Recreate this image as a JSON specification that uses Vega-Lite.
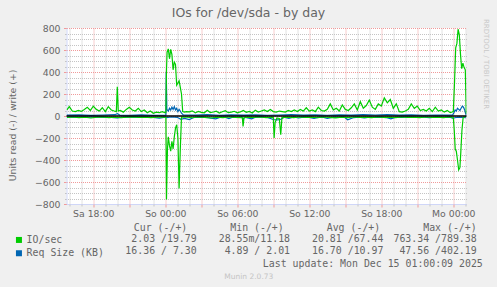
{
  "$schema": "https://vega.github.io/schema/vega-lite/v6.json",
  "width": 400,
  "height": 176,
  "autosize": "none",
  "padding": {"left": 66.5, "top": 28, "right": 30.5, "bottom": 83},
  "background": "#F0F0F0",
  "config": {
    "view": {"fill": "#FFFFFF", "stroke": null},
    "font": "DejaVu Sans"
  },
  "title": {
    "text": "IOs for /dev/sda - by day",
    "font": "DejaVu Sans",
    "fontSize": 12.5,
    "fontWeight": "normal",
    "color": "#666666",
    "anchor": "middle",
    "dx": -18,
    "dy": 11,
    "offset": 0,
    "baseline": "alphabetic"
  },
  "datasets": {
    "gw": [
      {"h": 15.8, "v": 55}, {"h": 16.0, "v": 85}, {"h": 16.25, "v": 45}, {"h": 16.5, "v": 40}, {"h": 16.75, "v": 50},
      {"h": 17.0, "v": 42}, {"h": 17.25, "v": 60}, {"h": 17.5, "v": 80}, {"h": 17.75, "v": 50}, {"h": 18.0, "v": 90},
      {"h": 18.25, "v": 60}, {"h": 18.5, "v": 45}, {"h": 18.75, "v": 75}, {"h": 19.0, "v": 40}, {"h": 19.25, "v": 85},
      {"h": 19.5, "v": 55}, {"h": 19.75, "v": 45}, {"h": 19.92, "v": 40}, {"h": 20.0, "v": 265}, {"h": 20.08, "v": 45},
      {"h": 20.25, "v": 50}, {"h": 20.5, "v": 35}, {"h": 20.75, "v": 60}, {"h": 21.0, "v": 80}, {"h": 21.25, "v": 55},
      {"h": 21.5, "v": 45}, {"h": 21.75, "v": 70}, {"h": 22.0, "v": 40}, {"h": 22.25, "v": 55}, {"h": 22.5, "v": 30},
      {"h": 22.75, "v": 45}, {"h": 23.0, "v": 25}, {"h": 23.25, "v": 35}, {"h": 23.5, "v": 30}, {"h": 23.75, "v": 40},
      {"h": 24.0, "v": 30}, {"h": 24.05, "v": 35}, {"h": 24.1, "v": 420}, {"h": 24.15, "v": 580}, {"h": 24.25, "v": 610},
      {"h": 24.35, "v": 520}, {"h": 24.45, "v": 605}, {"h": 24.55, "v": 560}, {"h": 24.65, "v": 420}, {"h": 24.75, "v": 490},
      {"h": 24.85, "v": 470}, {"h": 24.95, "v": 280}, {"h": 25.05, "v": 300}, {"h": 25.15, "v": 320}, {"h": 25.25, "v": 260},
      {"h": 25.35, "v": 200}, {"h": 25.45, "v": 40}, {"h": 25.6, "v": 35}, {"h": 25.75, "v": 40}, {"h": 26.0, "v": 38},
      {"h": 26.25, "v": 47}, {"h": 26.5, "v": 28}, {"h": 26.75, "v": 42}, {"h": 27.0, "v": 33}, {"h": 27.25, "v": 29},
      {"h": 27.5, "v": 52}, {"h": 27.75, "v": 31}, {"h": 28.0, "v": 36}, {"h": 28.25, "v": 44}, {"h": 28.5, "v": 27},
      {"h": 28.75, "v": 39}, {"h": 29.0, "v": 48}, {"h": 29.25, "v": 30}, {"h": 29.5, "v": 35}, {"h": 29.75, "v": 43},
      {"h": 30.0, "v": 29}, {"h": 30.25, "v": 37}, {"h": 30.5, "v": 50}, {"h": 30.75, "v": 33}, {"h": 31.0, "v": 41},
      {"h": 31.25, "v": 28}, {"h": 31.5, "v": 53}, {"h": 31.75, "v": 36}, {"h": 32.0, "v": 45}, {"h": 32.25, "v": 55},
      {"h": 32.5, "v": 40}, {"h": 32.75, "v": 60}, {"h": 33.0, "v": 40}, {"h": 33.25, "v": 35}, {"h": 33.5, "v": 45},
      {"h": 33.75, "v": 40}, {"h": 34.0, "v": 35}, {"h": 34.25, "v": 50}, {"h": 34.5, "v": 40}, {"h": 34.75, "v": 55},
      {"h": 35.0, "v": 40}, {"h": 35.25, "v": 60}, {"h": 35.5, "v": 45}, {"h": 35.75, "v": 75}, {"h": 36.0, "v": 45},
      {"h": 36.25, "v": 55}, {"h": 36.5, "v": 40}, {"h": 36.75, "v": 80}, {"h": 37.0, "v": 50}, {"h": 37.25, "v": 45},
      {"h": 37.5, "v": 60}, {"h": 37.75, "v": 110}, {"h": 38.0, "v": 55}, {"h": 38.25, "v": 70}, {"h": 38.5, "v": 45},
      {"h": 38.75, "v": 100}, {"h": 39.0, "v": 60}, {"h": 39.25, "v": 50}, {"h": 39.5, "v": 75}, {"h": 39.75, "v": 110},
      {"h": 40.0, "v": 55}, {"h": 40.25, "v": 130}, {"h": 40.5, "v": 70}, {"h": 40.75, "v": 95}, {"h": 41.0, "v": 145},
      {"h": 41.25, "v": 80}, {"h": 41.5, "v": 60}, {"h": 41.75, "v": 110}, {"h": 42.0, "v": 90}, {"h": 42.25, "v": 165},
      {"h": 42.5, "v": 120}, {"h": 42.75, "v": 150}, {"h": 43.0, "v": 70}, {"h": 43.25, "v": 110}, {"h": 43.5, "v": 40},
      {"h": 43.75, "v": 35}, {"h": 44.0, "v": 45}, {"h": 44.25, "v": 60}, {"h": 44.5, "v": 110}, {"h": 44.75, "v": 70},
      {"h": 45.0, "v": 90}, {"h": 45.25, "v": 50}, {"h": 45.5, "v": 60}, {"h": 45.75, "v": 45}, {"h": 46.0, "v": 70},
      {"h": 46.25, "v": 40}, {"h": 46.5, "v": 80}, {"h": 46.75, "v": 45}, {"h": 47.0, "v": 55}, {"h": 47.25, "v": 35},
      {"h": 47.5, "v": 50}, {"h": 47.75, "v": 30}, {"h": 48.0, "v": 40}, {"h": 48.1, "v": 300}, {"h": 48.2, "v": 620},
      {"h": 48.3, "v": 660}, {"h": 48.4, "v": 789}, {"h": 48.5, "v": 740}, {"h": 48.6, "v": 560}, {"h": 48.7, "v": 430},
      {"h": 48.8, "v": 480}, {"h": 48.9, "v": 440}, {"h": 49.0, "v": 420}, {"h": 49.08, "v": 20}
    ],
    "gr": [
      {"h": 15.8, "v": -12}, {"h": 16.3, "v": -9}, {"h": 16.8, "v": -15}, {"h": 17.3, "v": -10}, {"h": 17.8, "v": -18},
      {"h": 18.3, "v": -11}, {"h": 18.8, "v": -8}, {"h": 19.3, "v": -14}, {"h": 19.8, "v": -10}, {"h": 20.3, "v": -16},
      {"h": 20.8, "v": -11}, {"h": 21.3, "v": -8}, {"h": 21.8, "v": -13}, {"h": 22.3, "v": -10}, {"h": 22.8, "v": -15},
      {"h": 23.3, "v": -11}, {"h": 23.8, "v": -9}, {"h": 24.05, "v": -12}, {"h": 24.1, "v": -760}, {"h": 24.18, "v": -300},
      {"h": 24.25, "v": -190}, {"h": 24.35, "v": -270}, {"h": 24.45, "v": -320}, {"h": 24.55, "v": -230}, {"h": 24.65, "v": -300},
      {"h": 24.75, "v": -190}, {"h": 24.85, "v": -110}, {"h": 24.95, "v": -80}, {"h": 25.05, "v": -200}, {"h": 25.15, "v": -660},
      {"h": 25.25, "v": -300}, {"h": 25.35, "v": -10}, {"h": 25.8, "v": -11}, {"h": 26.3, "v": -16}, {"h": 26.8, "v": -9},
      {"h": 27.3, "v": -13}, {"h": 27.8, "v": -18}, {"h": 28.3, "v": -10}, {"h": 28.8, "v": -14}, {"h": 29.3, "v": -9},
      {"h": 29.8, "v": -13}, {"h": 30.3, "v": -15}, {"h": 30.42, "v": -14}, {"h": 30.48, "v": -95}, {"h": 30.56, "v": -14},
      {"h": 30.9, "v": -10}, {"h": 31.4, "v": -13}, {"h": 31.9, "v": -9}, {"h": 32.4, "v": -14}, {"h": 32.9, "v": -11},
      {"h": 33.0, "v": -12}, {"h": 33.07, "v": -200}, {"h": 33.15, "v": -60}, {"h": 33.3, "v": -18}, {"h": 33.5, "v": -22},
      {"h": 33.62, "v": -170}, {"h": 33.72, "v": -14}, {"h": 34.2, "v": -10}, {"h": 34.7, "v": -14}, {"h": 35.2, "v": -9},
      {"h": 35.7, "v": -13}, {"h": 36.2, "v": -10}, {"h": 36.7, "v": -16}, {"h": 37.2, "v": -9}, {"h": 37.7, "v": -13},
      {"h": 38.2, "v": -17}, {"h": 38.7, "v": -10}, {"h": 39.2, "v": -14}, {"h": 39.7, "v": -9}, {"h": 40.2, "v": -13},
      {"h": 40.7, "v": -10}, {"h": 41.2, "v": -15}, {"h": 41.7, "v": -9}, {"h": 42.2, "v": -13}, {"h": 42.7, "v": -10},
      {"h": 43.2, "v": -14}, {"h": 43.7, "v": -9}, {"h": 44.2, "v": -13}, {"h": 44.7, "v": -10}, {"h": 45.2, "v": -15},
      {"h": 45.7, "v": -9}, {"h": 46.2, "v": -13}, {"h": 46.7, "v": -10}, {"h": 47.2, "v": -14}, {"h": 47.7, "v": -9},
      {"h": 48.0, "v": -12}, {"h": 48.08, "v": -130}, {"h": 48.16, "v": -300}, {"h": 48.25, "v": -320}, {"h": 48.35, "v": -400},
      {"h": 48.45, "v": -490}, {"h": 48.55, "v": -470}, {"h": 48.62, "v": -340}, {"h": 48.72, "v": -130}, {"h": 48.82, "v": -12},
      {"h": 49.08, "v": -2}
    ],
    "bw": [
      {"h": 15.8, "v": 8}, {"h": 16.8, "v": 10}, {"h": 17.8, "v": 6}, {"h": 18.8, "v": 9}, {"h": 19.8, "v": 12},
      {"h": 20.0, "v": 22}, {"h": 20.2, "v": 8}, {"h": 21.0, "v": 7}, {"h": 22.0, "v": 10}, {"h": 23.0, "v": 6},
      {"h": 24.0, "v": 8}, {"h": 24.05, "v": 10}, {"h": 24.08, "v": 402}, {"h": 24.13, "v": 60}, {"h": 24.25, "v": 45},
      {"h": 24.35, "v": 70}, {"h": 24.45, "v": 55}, {"h": 24.55, "v": 80}, {"h": 24.65, "v": 60}, {"h": 24.75, "v": 85},
      {"h": 24.85, "v": 55}, {"h": 24.95, "v": 70}, {"h": 25.05, "v": 40}, {"h": 25.15, "v": 60}, {"h": 25.25, "v": 45},
      {"h": 25.35, "v": 25}, {"h": 25.5, "v": 10}, {"h": 26.5, "v": 8}, {"h": 27.5, "v": 12}, {"h": 28.5, "v": 7},
      {"h": 29.5, "v": 10}, {"h": 30.5, "v": 8}, {"h": 31.5, "v": 11}, {"h": 32.5, "v": 7}, {"h": 33.5, "v": 9},
      {"h": 34.5, "v": 12}, {"h": 35.5, "v": 8}, {"h": 36.5, "v": 10}, {"h": 37.5, "v": 7}, {"h": 38.5, "v": 11},
      {"h": 39.5, "v": 8}, {"h": 40.5, "v": 12}, {"h": 41.5, "v": 9}, {"h": 42.5, "v": 13}, {"h": 43.5, "v": 8},
      {"h": 44.5, "v": 10}, {"h": 45.5, "v": 7}, {"h": 46.5, "v": 9}, {"h": 47.5, "v": 8}, {"h": 47.95, "v": 10},
      {"h": 48.05, "v": 30}, {"h": 48.15, "v": 55}, {"h": 48.25, "v": 45}, {"h": 48.35, "v": 70}, {"h": 48.45, "v": 60},
      {"h": 48.55, "v": 50}, {"h": 48.65, "v": 70}, {"h": 48.75, "v": 90}, {"h": 48.85, "v": 80}, {"h": 48.95, "v": 55},
      {"h": 49.02, "v": 25}, {"h": 49.08, "v": 7}
    ],
    "br": [
      {"h": 15.8, "v": -10}, {"h": 16.5, "v": -9}, {"h": 17.5, "v": -11}, {"h": 18.5, "v": -10}, {"h": 19.5, "v": -12},
      {"h": 20.0, "v": -18}, {"h": 20.5, "v": -9}, {"h": 21.5, "v": -11}, {"h": 22.5, "v": -10}, {"h": 23.0, "v": -12},
      {"h": 23.5, "v": -20}, {"h": 24.0, "v": -10}, {"h": 24.1, "v": -15}, {"h": 24.5, "v": -9}, {"h": 25.0, "v": -12},
      {"h": 25.3, "v": -30}, {"h": 25.6, "v": -22}, {"h": 26.0, "v": -32}, {"h": 26.4, "v": -12}, {"h": 27.0, "v": -10},
      {"h": 27.6, "v": -14}, {"h": 28.2, "v": -26}, {"h": 28.6, "v": -11}, {"h": 29.0, "v": -10}, {"h": 29.3, "v": -24},
      {"h": 29.6, "v": -10}, {"h": 30.0, "v": -12}, {"h": 30.4, "v": -9}, {"h": 30.48, "v": -38}, {"h": 30.6, "v": -10},
      {"h": 31.2, "v": -26}, {"h": 31.5, "v": -11}, {"h": 32.0, "v": -9}, {"h": 32.5, "v": -12}, {"h": 33.0, "v": -32},
      {"h": 33.3, "v": -36}, {"h": 33.6, "v": -32}, {"h": 33.9, "v": -11}, {"h": 34.3, "v": -22}, {"h": 34.7, "v": -9},
      {"h": 35.1, "v": -18}, {"h": 35.5, "v": -10}, {"h": 36.0, "v": -12}, {"h": 36.4, "v": -22}, {"h": 36.8, "v": -10},
      {"h": 37.2, "v": -12}, {"h": 37.5, "v": -22}, {"h": 38.0, "v": -10}, {"h": 38.5, "v": -12}, {"h": 38.9, "v": -9},
      {"h": 39.2, "v": -34}, {"h": 39.7, "v": -14}, {"h": 40.1, "v": -10}, {"h": 40.6, "v": -18}, {"h": 41.0, "v": -10},
      {"h": 41.5, "v": -12}, {"h": 42.0, "v": -11}, {"h": 42.4, "v": -14}, {"h": 42.8, "v": -26}, {"h": 43.2, "v": -10},
      {"h": 43.7, "v": -13}, {"h": 44.2, "v": -9}, {"h": 44.8, "v": -12}, {"h": 45.4, "v": -9}, {"h": 46.0, "v": -14},
      {"h": 46.6, "v": -10}, {"h": 47.2, "v": -12}, {"h": 47.7, "v": -10}, {"h": 48.0, "v": -22}, {"h": 48.1, "v": -16},
      {"h": 48.5, "v": -11}, {"h": 49.08, "v": -16}
    ],
    "hdr": [
      {"stat": "Cur", "t": "Cur (-/+)"}, {"stat": "Min", "t": "Min (-/+)"},
      {"stat": "Avg", "t": "Avg (-/+)"}, {"stat": "Max", "t": "Max (-/+)"}
    ],
    "vals": [
      {"row": "io", "stat": "Cur", "t": "2.03 /19.79"},
      {"row": "io", "stat": "Min", "t": "28.55m/11.18"},
      {"row": "io", "stat": "Avg", "t": "20.81 /67.44"},
      {"row": "io", "stat": "Max", "t": "763.34 /789.38"},
      {"row": "req", "stat": "Cur", "t": "16.36 / 7.30"},
      {"row": "req", "stat": "Min", "t": "4.89 / 2.01"},
      {"row": "req", "stat": "Avg", "t": "16.70 /10.97"},
      {"row": "req", "stat": "Max", "t": "47.56 /402.19"}
    ]
  },
  "layer": [
    {
      "layer": [
        {
          "data": {"name": "br"},
          "mark": {"type": "line", "strokeWidth": 1.2, "clip": true},
          "encoding": {
            "x": {"field": "h", "type": "quantitative",
              "scale": {"domain": [15.767, 49.1], "nice": false, "zero": false},
              "axis": {"orient": "bottom", "values": [18,24,30,36,42,48],
                "grid": false, "ticks": false, "labels": true,
                "labelExpr": "datum.value == 18 ? 'Sa 18:00' : datum.value == 24 ? 'So 00:00' : datum.value == 30 ? 'So 06:00' : datum.value == 36 ? 'So 12:00' : datum.value == 42 ? 'So 18:00' : 'Mo 00:00'",
                "labelFont": "DejaVu Sans", "labelFontSize": 9.3, "labelColor": "#666666", "labelPadding": 5,
                "labelFlush": false, "labelOverlap": false, "labelBound": false,
                "domain": true, "domainColor": "#CFD6F8", "domainWidth": 1,
                "title": "Munin 2.0.73", "titleX": 181.8, "titleY": 74.5, "titleAlign": "center",
                "titleBaseline": "alphabetic", "titleFont": "DejaVu Sans", "titleFontSize": 7.5,
                "titleFontWeight": "normal", "titleColor": "#C4C4C4"}},
            "y": {"field": "v", "type": "quantitative",
              "scale": {"domain": [-800, 800], "nice": false, "zero": false},
              "axis": {"orient": "left", "values": [-750,-700,-650,-550,-500,-450,-350,-300,-250,-150,-100,-50,50,100,150,250,300,350,450,500,550,650,700,750],
                "grid": false, "ticks": true, "tickColor": "#C4C4C4", "tickSize": 2, "labels": false, "domain": false, "title": null}},
            "color": {"datum": "Req Size (KB)", "type": "nominal",
              "scale": {"domain": ["IO/sec", "Req Size (KB)"], "range": ["#00CC00", "#0066B3"]},
              "legend": {"orient": "none", "legendX": -52.5, "legendY": 207, "title": null,
                "symbolType": "square", "symbolSize": 4, "symbolStrokeWidth": 4, "symbolOpacity": 1,
                "labelFont": "DejaVu Sans Mono", "labelFontSize": 9.9, "labelColor": "#666666",
                "labelOffset": 2.7, "rowPadding": 2.2, "clipHeight": 9.9, "padding": 0, "direction": "vertical"}}
          }
        },
        {
          "data": {"name": "bw"},
          "mark": {"type": "line", "strokeWidth": 1.2, "clip": true},
          "encoding": {
            "x": {"field": "h", "type": "quantitative",
              "scale": {"domain": [15.767, 49.1], "nice": false, "zero": false}, "axis": null},
            "y": {"field": "v", "type": "quantitative",
              "scale": {"domain": [-800, 800], "nice": false, "zero": false}, "axis": null},
            "color": {"datum": "Req Size (KB)", "type": "nominal",
              "legend": {"orient": "none", "legendX": -52.5, "legendY": 207, "title": null,
                "symbolType": "square", "symbolSize": 4, "symbolStrokeWidth": 4, "symbolOpacity": 1,
                "labelFont": "DejaVu Sans Mono", "labelFontSize": 9.9, "labelColor": "#666666",
                "labelOffset": 2.7, "rowPadding": 2.2, "clipHeight": 9.9, "padding": 0, "direction": "vertical"}}
          }
        },
        {
          "data": {"name": "gr"},
          "mark": {"type": "line", "strokeWidth": 1.2, "clip": true},
          "encoding": {
            "x": {"field": "h", "type": "quantitative",
              "scale": {"domain": [15.767, 49.1], "nice": false, "zero": false},
              "axis": {"orient": "bottom", "values": [16,17,19,20,22,23,25,26,28,29,31,32,34,35,37,38,40,41,43,44,46,47,49],
                "grid": true, "gridColor": "#C4C4C4", "gridDash": [1,1], "gridWidth": 1,
                "ticks": true, "tickColor": "#C4C4C4", "tickSize": 2, "labels": false, "domain": false, "title": null}},
            "y": {"field": "v", "type": "quantitative",
              "scale": {"domain": [-800, 800], "nice": false, "zero": false},
              "axis": {"orient": "right", "values": [-750,-700,-650,-550,-500,-450,-350,-300,-250,-150,-100,-50,50,100,150,250,300,350,450,500,550,650,700,750],
                "grid": true, "gridColor": "#C4C4C4", "gridDash": [1,1], "gridWidth": 1,
                "ticks": false, "labels": false, "domain": false,
                "title": "RRDTOOL / TOBI OETIKER", "titleAngle": 90, "titleX": 17, "titleY": 35.5,
                "titleAlign": "center", "titleBaseline": "alphabetic", "titleFont": "DejaVu Sans",
                "titleFontSize": 7, "titleFontWeight": "normal", "titleColor": "#C8C8C8"}},
            "color": {"datum": "IO/sec", "type": "nominal",
              "legend": {"orient": "none", "legendX": -52.5, "legendY": 207, "title": null,
                "symbolType": "square", "symbolSize": 4, "symbolStrokeWidth": 4, "symbolOpacity": 1,
                "labelFont": "DejaVu Sans Mono", "labelFontSize": 9.9, "labelColor": "#666666",
                "labelOffset": 2.7, "rowPadding": 2.2, "clipHeight": 9.9, "padding": 0, "direction": "vertical"}}
          }
        },
        {
          "data": {"name": "gw"},
          "mark": {"type": "line", "strokeWidth": 1.2, "clip": true},
          "encoding": {
            "x": {"field": "h", "type": "quantitative",
              "scale": {"domain": [15.767, 49.1], "nice": false, "zero": false},
              "axis": {"orient": "bottom", "values": [18,21,24,27,30,33,36,39,42,45,48],
                "grid": true, "gridColor": "#F09A9A", "gridDash": [1,1], "gridWidth": 1,
                "ticks": true, "tickColor": "#F09A9A", "tickSize": 3, "labels": false, "domain": false,
                "title": "Last update: Mon Dec 15 01:00:09 2025", "titleX": 415.8, "titleY": 62,
                "titleAlign": "right", "titleBaseline": "alphabetic", "titleFont": "DejaVu Sans Mono",
                "titleFontSize": 9.9, "titleFontWeight": "normal", "titleColor": "#666666"}},
            "y": {"field": "v", "type": "quantitative",
              "scale": {"domain": [-800, 800], "nice": false, "zero": false},
              "axis": {"orient": "left", "values": [-800,-600,-400,-200,0,200,400,600,800],
                "grid": true, "gridColor": "#F09A9A", "gridDash": [1,1], "gridWidth": 1,
                "ticks": true, "tickColor": "#F09A9A", "tickSize": 3,
                "labels": true, "labelFont": "DejaVu Sans", "labelFontSize": 9.3, "labelColor": "#666666",
                "labelPadding": 3.5, "labelFlush": false, "labelOverlap": false, "labelBound": false,
                "domain": true, "domainColor": "#CFD6F8", "domainWidth": 1,
                "title": "Units read (-) / write (+)", "titleAngle": 270, "titleX": -51.5, "titleY": 97,
                "titleAlign": "center", "titleBaseline": "alphabetic", "titleFont": "DejaVu Sans",
                "titleFontSize": 9.3, "titleFontWeight": "normal", "titleColor": "#666666"}},
            "color": {"datum": "IO/sec", "type": "nominal",
              "legend": {"orient": "none", "legendX": -52.5, "legendY": 207, "title": null,
                "symbolType": "square", "symbolSize": 4, "symbolStrokeWidth": 4, "symbolOpacity": 1,
                "labelFont": "DejaVu Sans Mono", "labelFontSize": 9.9, "labelColor": "#666666",
                "labelOffset": 2.7, "rowPadding": 2.2, "clipHeight": 9.9, "padding": 0, "direction": "vertical"}}
          }
        },
        {
          "data": {"values": [{}]},
          "mark": {"type": "rule", "color": "#000000", "strokeWidth": 1.3},
          "encoding": {
            "y": {"datum": 0, "type": "quantitative", "axis": null}
          }
        }
      ],
      "resolve": {"axis": {"x": "independent", "y": "independent"}}
    },
    {
      "data": {"name": "hdr"},
      "mark": {"type": "text", "align": "right", "baseline": "alphabetic", "font": "DejaVu Sans Mono", "fontSize": 9.9, "color": "#666666"},
      "encoding": {
        "x": {"field": "stat", "type": "nominal",
          "scale": {"type": "point", "domain": ["Cur", "Min", "Avg", "Max"], "range": [120.8, 410.2], "padding": 0}, "axis": null},
        "y": {"datum": "hdr", "type": "nominal",
          "scale": {"type": "point", "domain": ["hdr", "io", "req"], "range": [202.5, 226.3], "padding": 0}, "axis": null},
        "text": {"field": "t"}
      }
    },
    {
      "data": {"name": "vals"},
      "mark": {"type": "text", "align": "right", "baseline": "alphabetic", "font": "DejaVu Sans Mono", "fontSize": 9.9, "color": "#666666"},
      "encoding": {
        "x": {"field": "stat", "type": "nominal",
          "scale": {"type": "point", "domain": ["Cur", "Min", "Avg", "Max"], "range": [130.2, 410.2], "padding": 0}, "axis": null},
        "y": {"field": "row", "type": "nominal",
          "scale": {"type": "point", "domain": ["hdr", "io", "req"], "range": [202.5, 226.3], "padding": 0}, "axis": null},
        "text": {"field": "t"}
      }
    }
  ],
  "resolve": {"scale": {"x": "independent", "y": "independent"}}
}
